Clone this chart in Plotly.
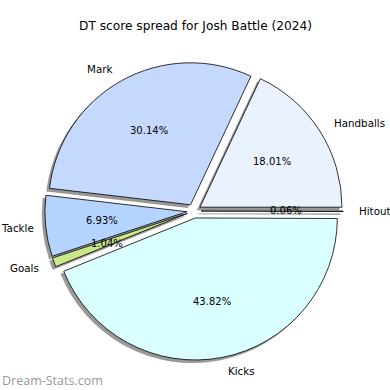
import math
import plotly.graph_objects as go

labels = ["Hitout", "Handballs", "Mark", "Tackle", "Goals", "Kicks"]
values = [0.06, 18.01, 30.14, 6.93, 1.04, 43.82]
colors = ["#d8d8d8", "#eaf1ff", "#c5d9ff", "#b4d4ff", "#c9e88b", "#d9ffff"]
explode = [0.05, 0.05, 0.05, 0.05, 0.05, 0.05]

W = H = 390
title = "DT score spread for Josh Battle (2024)"
watermark = "Dream-Stats.com"

# geometry (pixels)
cx, cy = 194, 211
R = 142
maxpull = max(explode)
half = R * (1 + maxpull)
sh = 0.02 * R  # shadow offset

def dom(ox, oy):
    return dict(x=[(cx + ox - half) / W, (cx + ox + half) / W],
                y=[1 - (cy + oy + half) / H, 1 - (cy + oy - half) / H])

fig = go.Figure()
fig.add_trace(go.Pie(
    labels=labels, values=values, sort=False, direction="counterclockwise",
    rotation=90, pull=explode, textinfo="none", hoverinfo="skip",
    marker=dict(colors=["rgba(70,70,70,0.55)"] * len(values),
                line=dict(color="rgba(100,100,100,0.6)", width=0.5)),
    domain=dom(-sh, sh), showlegend=False))
fig.add_trace(go.Pie(
    labels=labels, values=values, sort=False, direction="counterclockwise",
    rotation=90, pull=explode, textinfo="none",
    marker=dict(colors=colors, line=dict(color="black", width=0.8)),
    domain=dom(0, 0), showlegend=False))

total = sum(values)
start = 0.0
anns = []
for lab, v, e in zip(labels, values, explode):
    ang = start + 360 * v / total / 2
    start += 360 * v / total
    t = math.radians(ang)
    c, s = math.cos(t), math.sin(t)
    ex, ey = cx + e * R * c, cy - e * R * s
    lx, ly = ex + 1.1 * R * c, ey - 1.1 * R * s
    if c < 0:
        lx = max(lx, len(lab) * 6.0)  # keep text inside the page
    anns.append(dict(x=lx / W, y=1 - ly / H, xref="paper", yref="paper",
                     text=lab, showarrow=False,
                     xanchor="left" if c > 0 else "right", yanchor="middle",
                     font=dict(size=10.3, color="black", family="DejaVu Sans")))
    px, py = ex + 0.6 * R * c, ey - 0.6 * R * s
    anns.append(dict(x=px / W, y=1 - py / H, xref="paper", yref="paper",
                     text=f"{v:.2f}%", showarrow=False,
                     xanchor="center", yanchor="middle",
                     font=dict(size=10, color="black", family="DejaVu Sans")))

anns.append(dict(x=0.5, y=1 - 26 / H, xref="paper", yref="paper", text=title,
                 showarrow=False, xanchor="center", yanchor="middle",
                 font=dict(size=12.2, color="black", family="DejaVu Sans")))
anns.append(dict(x=0, y=1 - 380 / H, xref="paper", yref="paper", text=watermark,
                 showarrow=False, xanchor="left", yanchor="middle",
                 font=dict(size=12.5, color="#999999", family="Open Sans")))

fig.update_layout(width=W, height=H, margin=dict(l=0, r=0, t=0, b=0),
                  paper_bgcolor="white", plot_bgcolor="white",
                  annotations=anns, showlegend=False)
fig.write_html("out.html", config={"displayModeBar": False},
               post_script="document.body.style.margin='0';document.body.style.overflow='hidden';")
